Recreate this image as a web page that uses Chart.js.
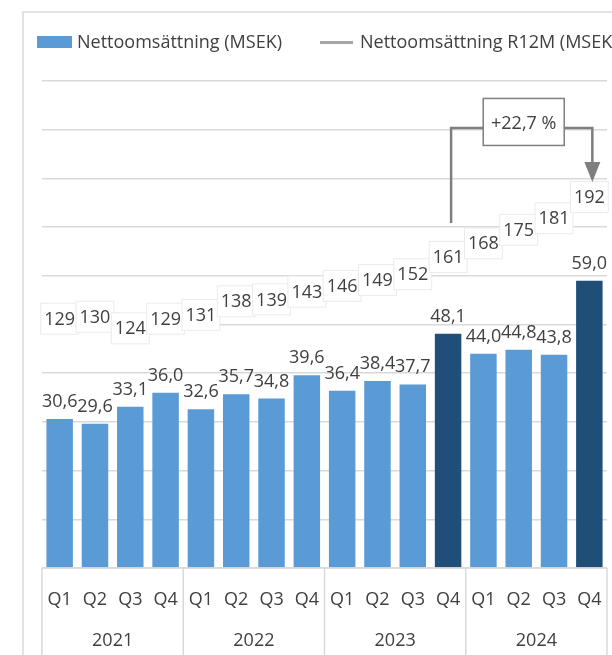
<!DOCTYPE html>
<html>
<head>
<meta charset="utf-8">
<script src="https://cdn.jsdelivr.net/npm/chart.js@4"></script>
<style>
  html, body { margin: 0; padding: 0; background: #fff; overflow: hidden; }
  .wrap { position: relative; width: 612px; height: 655px; }
  .legend { position: absolute; top: 0; left: 0; width: 612px; height: 80px; overflow: hidden;
            font: 18px "Open Sans", sans-serif; color: #404040; white-space: nowrap; }
  .legend span { position: absolute; top: 29px; }
  .sw-bar { position: absolute; left: 37px; top: 36px; width: 35px; height: 12px; background: #5b9bd5; }
  .sw-line { position: absolute; left: 320px; top: 41px; width: 33px; height: 3px; background: #a6a6a6; }
</style>
</head>
<body>
<div class="wrap">
  <canvas id="chart" width="612" height="655"></canvas>
  <div class="legend">
    <div class="sw-bar"></div><span style="left:77px">Nettoomsättning (MSEK)</span>
    <div class="sw-line"></div><span style="left:360px">Nettoomsättning R12M (MSEK)</span>
  </div>
</div>
<script>
// data
const quarters = ['Q1','Q2','Q3','Q4','Q1','Q2','Q3','Q4','Q1','Q2','Q3','Q4','Q1','Q2','Q3','Q4'];
const years = ['2021', '2022', '2023', '2024'];
const sales = [30.6, 29.6, 33.1, 36.0, 32.6, 35.7, 34.8, 39.6, 36.4, 38.4, 37.7, 48.1, 44.0, 44.8, 43.8, 59.0];
const salesR12 = [129, 130, 124, 129, 131, 138, 139, 143, 146, 149, 152, 161, 168, 175, 181, 192];
const highlighted = [11, 15];
const growthText = '+22,7 %';

const BLUE = '#5b9bd5';
const DARK = '#1f4e79';
const GRID = '#d9d9d9';
const TEXT = '#404040';
const FONT = '18px "Open Sans", sans-serif';

const fmt = v => v.toFixed(1).replace('.', ',');

// frame, category box, labels, bracket
const decor = {
  id: 'decor',
  beforeDraw(chart) {
    const ctx = chart.ctx;
    ctx.save();
    ctx.fillStyle = '#fff';
    ctx.fillRect(0, 0, chart.width, chart.height);
    ctx.strokeStyle = GRID;
    ctx.lineWidth = 1.5;
    ctx.beginPath();
    ctx.moveTo(23, chart.height);
    ctx.lineTo(23, 12);
    ctx.lineTo(chart.width, 12);
    ctx.stroke();
    ctx.restore();
  },
  afterDatasetsDraw(chart) {
    const ctx = chart.ctx;
    const x = chart.scales.x;
    const area = chart.chartArea;
    const step = x.getPixelForValue(1) - x.getPixelForValue(0);
    ctx.save();

    // category box
    ctx.strokeStyle = GRID;
    ctx.lineWidth = 1.5;
    ctx.beginPath();
    ctx.moveTo(area.left, area.bottom);
    ctx.lineTo(area.right, area.bottom);
    for (let g = 0; g <= years.length; g++) {
      const px = x.getPixelForValue(0) - step / 2 + g * 4 * step;
      ctx.moveTo(px, area.bottom);
      ctx.lineTo(px, chart.height);
    }
    ctx.stroke();

    ctx.font = FONT;
    ctx.fillStyle = TEXT;
    ctx.textAlign = 'center';
    ctx.textBaseline = 'alphabetic';
    quarters.forEach((q, i) => ctx.fillText(q, x.getPixelForValue(i), 605));
    years.forEach((yr, g) => {
      const cx = (x.getPixelForValue(g * 4) + x.getPixelForValue(g * 4 + 3)) / 2;
      ctx.fillText(yr, cx, 646);
    });

    // bar value labels
    chart.getDatasetMeta(0).data.forEach((bar, i) => {
      ctx.fillText(fmt(sales[i]), bar.x, bar.y - 12);
    });

    // R12M labels in boxes
    ctx.textBaseline = 'middle';
    chart.getDatasetMeta(1).data.forEach((pt, i) => {
      const t = String(salesR12[i]);
      const w = ctx.measureText(t).width + 7;
      const h = 31;
      ctx.fillStyle = '#fff';
      ctx.fillRect(pt.x - w / 2, pt.y - h / 2, w, h);
      ctx.strokeStyle = '#ebebeb';
      ctx.lineWidth = 1;
      ctx.strokeRect(pt.x - w / 2, pt.y - h / 2, w, h);
      ctx.fillStyle = TEXT;
      ctx.fillText(t, pt.x, pt.y + 1);
    });

    // growth bracket
    const y2 = chart.scales.y2;
    const xl = x.getPixelForValue(11) + 3;
    const xr = x.getPixelForValue(15) + 3;
    const yStart = y2.getPixelForValue(178.5);
    const yLevel = y2.getPixelForValue(227.7);
    const yTip = y2.getPixelForValue(199.7);
    const bw = 81, bh = 47;
    const bx = (xl + xr) / 2 + 2 - bw / 2;
    const by = yLevel - 6 - bh / 2;
    ctx.strokeStyle = '#7f7f7f';
    ctx.fillStyle = '#7f7f7f';
    ctx.lineWidth = 2.5;
    ctx.beginPath();
    ctx.moveTo(xl, yStart);
    ctx.lineTo(xl, yLevel);
    ctx.lineTo(bx, yLevel);
    ctx.moveTo(bx + bw, yLevel);
    ctx.lineTo(xr, yLevel);
    ctx.lineTo(xr, yTip - 18);
    ctx.stroke();
    ctx.beginPath();
    ctx.moveTo(xr - 8, yTip - 20);
    ctx.lineTo(xr + 8, yTip - 20);
    ctx.lineTo(xr, yTip);
    ctx.closePath();
    ctx.fill();
    ctx.fillStyle = '#fff';
    ctx.fillRect(bx, by, bw, bh);
    ctx.lineWidth = 1.5;
    ctx.strokeRect(bx, by, bw, bh);
    ctx.fillStyle = TEXT;
    ctx.fillText(growthText, bx + bw / 2, by + bh / 2 + 2);

    ctx.restore();
  }
};

new Chart(document.getElementById('chart'), {
  type: 'bar',
  data: {
    labels: quarters,
    datasets: [{
      label: 'Nettoomsättning (MSEK)',
      data: sales,
      backgroundColor: sales.map((v, i) => highlighted.includes(i) ? DARK : BLUE),
      categoryPercentage: 1,
      barPercentage: 0.75,
      yAxisID: 'y',
      order: 2
    }, {
      type: 'line',
      label: 'Nettoomsättning R12M (MSEK)',
      data: salesR12,
      borderColor: '#dcdcdc',
      borderWidth: 3,
      pointRadius: 0,
      tension: 0,
      yAxisID: 'y2',
      order: 1
    }]
  },
  options: {
    responsive: false,
    animation: false,
    layout: { padding: { left: 42, right: 5, top: 81, bottom: 87 } },
    plugins: { legend: { display: false }, tooltip: { enabled: false } },
    scales: {
      x: { display: false },
      y: {
        min: 0, max: 100,
        ticks: { display: false, stepSize: 10 },
        border: { display: false },
        grid: { color: GRID, lineWidth: 1.5, drawTicks: false }
      },
      y2: { display: false, min: 0, max: 252 }
    }
  },
  plugins: [decor]
});
</script>
</body>
</html>
